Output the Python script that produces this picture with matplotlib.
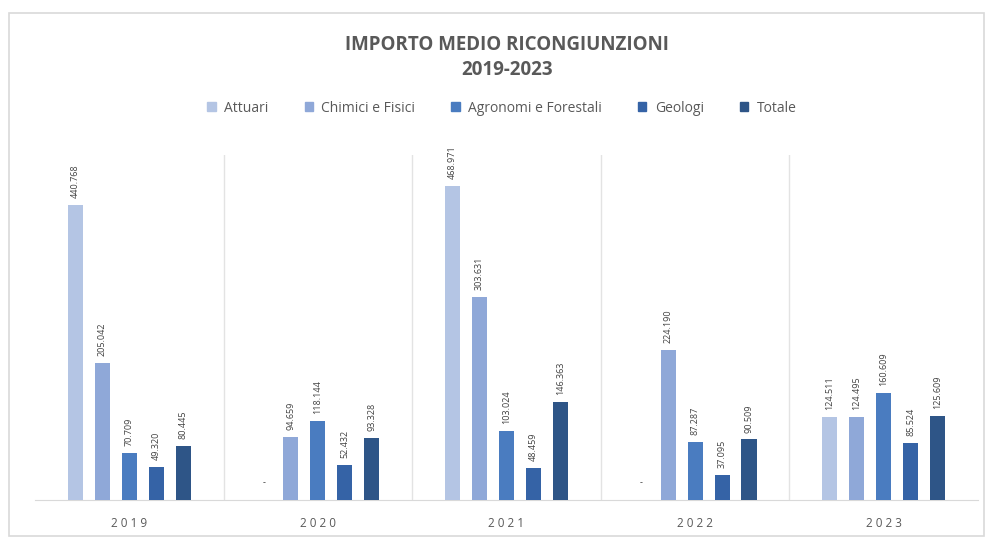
import matplotlib
matplotlib.use("Agg")
import matplotlib.pyplot as plt
from matplotlib.patches import Rectangle, Patch
import numpy as np

years = ["2019", "2020", "2021", "2022", "2023"]
series = ["Attuari", "Chimici e Fisici", "Agronomi e Forestali", "Geologi", "Totale"]
attuari = [440768, 0, 468971, 0, 124511]
chimici = [205042, 94659, 303631, 224190, 124495]
agronomi = [70709, 118144, 103024, 87287, 160609]
geologi = [49320, 52432, 48459, 37095, 85524]
totale = [80445, 93328, 146363, 90509, 125609]
values = [attuari, chimici, agronomi, geologi, totale]
colors = ["#b4c5e4", "#8fa8d8", "#4a7cc0", "#3563a6", "#2e5587"]

plt.rcParams['font.family'] = ['Open Sans', 'DejaVu Sans']

W, H = 990, 538
fig = plt.figure(figsize=(W / 100, H / 100), dpi=100)
fig.patch.set_facecolor("white")

# outer border
fig.add_artist(Rectangle((9 / W, 1 - 536 / H), (984 - 9) / W, (536 - 13) / H,
                         transform=fig.transFigure, fill=False,
                         edgecolor="#d9d9d9", linewidth=1.2))

left, right, top, bottom = 35, 978, 155, 500
ax = fig.add_axes([left / W, 1 - bottom / H, (right - left) / W, (bottom - top) / H])
px_per_unit = 0.669 / 1000
ymax = (bottom - top) / px_per_unit
ax.set_ylim(0, ymax)
ax.set_xlim(-0.5, len(years) - 0.5)

x = np.arange(len(years))
step = 0.143
width = 0.08


def fmt(v):
    return "-" if v == 0 else f"{v:,}".replace(",", ".")


for i, (name, vals, c) in enumerate(zip(series, values, colors)):
    xs = x + (i - 2) * step
    ax.bar(xs, vals, width=width, color=c, label=name, zorder=3)
    for xi, v in zip(xs, vals):
        if v == 0:
            ax.annotate("-", (xi, 0), xytext=(0, 9), textcoords="offset points",
                        ha="center", va="bottom", fontsize=6.5, color="#404040")
        else:
            ax.annotate(fmt(v), (xi, v), xytext=(0, 5), textcoords="offset points",
                        ha="center", va="bottom", rotation=90, fontsize=6.5,
                        color="#404040")

for s in [0.5, 1.5, 2.5, 3.5]:
    ax.axvline(s, color="#e3e3e3", linewidth=1, zorder=1)

for sp in ["top", "left", "right"]:
    ax.spines[sp].set_visible(False)
ax.spines["bottom"].set_color("#d9d9d9")
ax.set_yticks([])
ax.set_xticks(x)
ax.set_xticklabels([" ".join(y) for y in years], fontsize=8.5, color="#595959")
ax.tick_params(axis="x", length=0, pad=12)

fig.text(507 / W, 1 - 45 / H, "IMPORTO MEDIO RICONGIUNZIONI", ha="center", va="center",
         fontsize=13.5, fontweight="bold", color="#595959")
fig.text(507 / W, 1 - 70 / H, "2019-2023", ha="center", va="center",
         fontsize=13.5, fontweight="bold", color="#595959")

handles = [Patch(facecolor=c, edgecolor=c) for c in colors]
fig.legend(handles, series, loc="center", bbox_to_anchor=(502 / W, 1 - 108 / H), ncol=5,
           frameon=False, fontsize=10, handlelength=0.6, handleheight=0.6,
           handletextpad=0.6, columnspacing=2.6, labelcolor="#595959")

fig.savefig("out.png", dpi=100)
